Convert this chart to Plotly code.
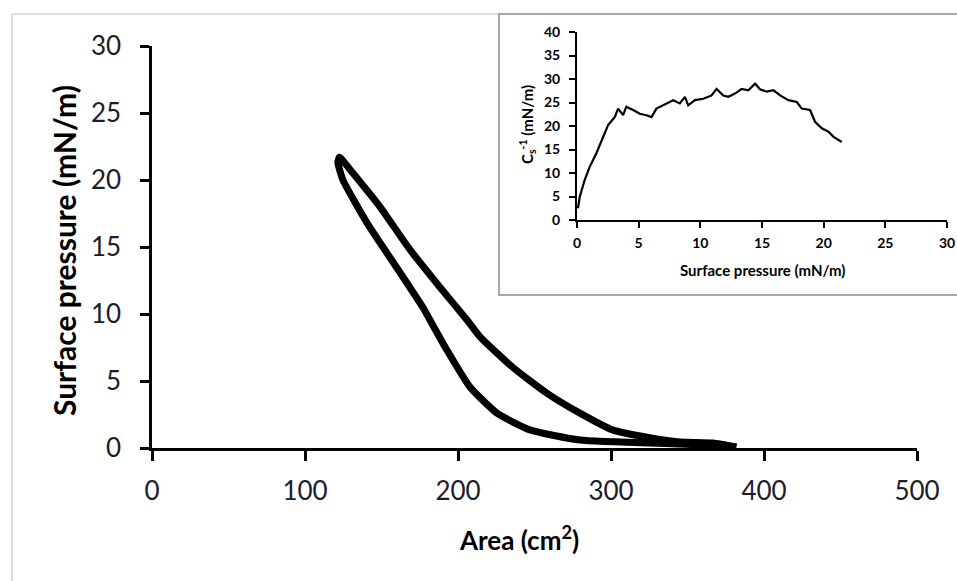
import plotly.graph_objects as go

W, H = 957, 581

# hysteresis loop: compression (outer/right branch) then expansion (inner/left branch)
comp_area = [382, 366.7, 345, 323.5, 301, 279.7, 258, 236, 214.4, 205.9, 188.2, 168.6, 149, 131.4, 122.5]
comp_pi = [0.07, 0.37, 0.45, 0.8, 1.35, 2.6, 4.1, 6.0, 8.3, 9.55, 12.0, 14.8, 18.0, 20.5, 21.7]
exp_area = [121.5, 124.8, 140.5, 162.1, 177.0, 181.7, 192.8, 207.8, 225.5, 247, 279.7, 345, 382]
exp_pi = [21.3, 20.0, 16.8, 13.1, 10.5, 9.55, 7.3, 4.55, 2.6, 1.35, 0.6, 0.3, 0.1]

# inset: compressional modulus vs surface pressure
inset_pi = [0.08, 0.22, 0.62, 1.03, 1.57, 2.11, 2.52, 3.06, 3.33, 3.74, 4.0, 4.55, 5.09,
            5.63, 6.04, 6.44, 6.99, 7.8, 8.34, 8.75, 9.02, 9.56, 10.24, 10.91, 11.32,
            11.86, 12.27, 12.81, 13.35, 13.89, 14.44, 14.84, 15.38, 15.93, 16.47, 17.14,
            17.82, 18.22, 18.9, 19.3, 19.85, 20.39, 20.8, 21.47]
inset_cs = [2.5, 4.9, 8.5, 11.3, 14.2, 17.7, 20.2, 21.9, 23.7, 22.3, 24.1, 23.4, 22.6,
            22.3, 21.9, 23.7, 24.4, 25.5, 24.8, 26.2, 24.4, 25.5, 25.8, 26.5, 27.9,
            26.5, 26.2, 26.9, 27.9, 27.6, 29.0, 27.8, 27.3, 27.6, 26.5, 25.5,
            25.1, 23.7, 23.4, 20.9, 19.5, 18.8, 17.7, 16.6]

FONT = "Lato, Calibri, sans-serif"
TICK_COL = "#1c1c2a"


def px(x):
    return x / W


def py(y):
    return 1 - y / H


fig = go.Figure()

fig.add_trace(go.Scatter(
    x=comp_area + exp_area, y=comp_pi + exp_pi,
    mode="lines", line=dict(color="black", width=7, shape="spline", smoothing=0.5),
    xaxis="x", yaxis="y", showlegend=False,
))

fig.add_trace(go.Scatter(
    x=inset_pi, y=inset_cs,
    mode="lines", line=dict(color="black", width=2.2),
    xaxis="x2", yaxis="y2", showlegend=False,
))

main_ax = dict(showgrid=False, zeroline=False, showline=True, linecolor="black",
               linewidth=2.5, ticks="outside", tickcolor="black", tickwidth=2.5,
               automargin=False,
               tickfont=dict(family=FONT, size=26, color=TICK_COL), fixedrange=True)
inset_ax = dict(showgrid=False, zeroline=False, showline=True, linecolor="black",
                linewidth=2, ticks="outside", tickcolor="black", tickwidth=2, ticklen=6,
                automargin=False,
                tickfont=dict(family=FONT, size=14, color="black", weight="bold"),
                fixedrange=True)

fig.update_layout(
    width=W, height=H,
    margin=dict(l=0, r=0, t=0, b=0, pad=0),
    paper_bgcolor="white", plot_bgcolor="rgba(0,0,0,0)",
    xaxis=dict(domain=[px(152), px(917)], range=[0, 500], tickvals=[0, 100, 200, 300, 400, 500],
               ticklen=10, ticklabelstandoff=8, anchor="y", **main_ax),
    yaxis=dict(domain=[py(448), py(46)], range=[0, 30], tickvals=[0, 5, 10, 15, 20, 25, 30],
               ticklen=9, ticklabelstandoff=14, anchor="x", **main_ax),
    xaxis2=dict(domain=[px(577), px(947)], range=[0, 30], tickvals=[0, 5, 10, 15, 20, 25, 30],
                ticklabelstandoff=3, anchor="y2", **inset_ax),
    yaxis2=dict(domain=[py(220), py(32)], range=[0, 40],
                tickvals=[0, 5, 10, 15, 20, 25, 30, 35, 40],
                ticklabelstandoff=6, anchor="x2", **inset_ax),
)

# frames: faint outer border and the inset box
fig.add_shape(type="line", xref="paper", yref="paper", x0=px(12), x1=px(499), y0=py(14), y1=py(14),
              line=dict(color="#dcdcdc", width=2), layer="below")
fig.add_shape(type="line", xref="paper", yref="paper", x0=px(12), x1=px(12), y0=py(14), y1=-0.05,
              line=dict(color="#dcdcdc", width=2), layer="below")
fig.add_shape(type="rect", xref="paper", yref="paper", x0=px(499), x1=1.05, y0=py(295), y1=py(14),
              fillcolor="white", line=dict(color="#a8a8a8", width=2), layer="below")

centred = dict(xref="paper", yref="paper", xanchor="center", yanchor="middle", showarrow=False)
fig.add_annotation(text="Surface pressure (mN/m)", x=px(64), y=py(251), textangle=-90,
                   font=dict(family=FONT, size=30, color="black", weight="bold"), **centred)
fig.add_annotation(text="Area (cm<sup>2</sup>)", x=px(519), y=py(538),
                   font=dict(family=FONT, size=26, color="black", weight="bold"), **centred)
inset_title = dict(family=FONT, size=15, color="black", weight="bold")
fig.add_annotation(text="C<sub>s</sub><sup>-1</sup> (mN/m)", x=px(528), y=py(125), textangle=-90,
                   font=inset_title, **centred)
fig.add_annotation(text="Surface pressure (mN/m)", x=px(762), y=py(270),
                   font=inset_title, **centred)

# drop the default page margin so the figure sits at the window origin
fig.write_html("out.html", config={"displayModeBar": False},
               post_script="document.body.style.margin='0';document.body.style.overflow='hidden';")
